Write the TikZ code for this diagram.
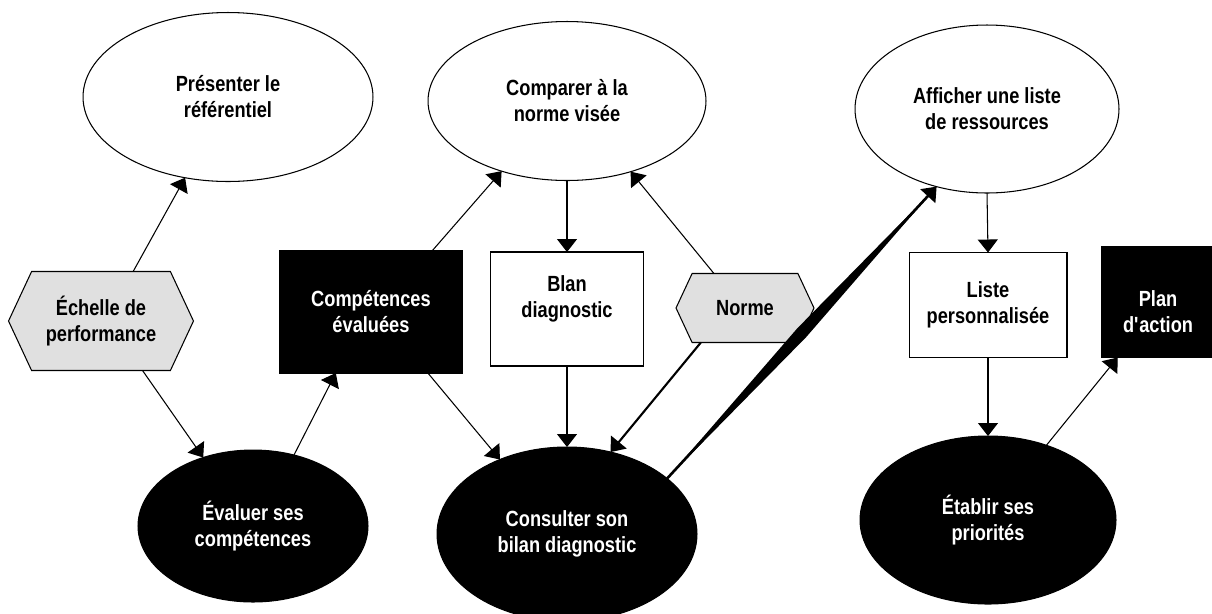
\documentclass[tikz,border=0pt]{standalone}
\usepackage{fontspec}
\setmainfont{Liberation Sans}[FakeStretch=0.83]
\usetikzlibrary{shapes.geometric,shapes.symbols,arrows.meta,calc}
\definecolor{hexgray}{RGB}{224,224,224}

\tikzset{
  shapebase/.style = {draw, line width=0.6pt, align=center, inner sep=0pt, outer sep=0pt,
                      font=\bfseries\fontsize{12.5}{14.8}\selectfont},
  task/.style      = {shapebase, ellipse},
  doc/.style       = {shapebase, rectangle},
  dark/.style      = {fill=black, text=white},
  gauge/.style     = {shapebase, signal, signal to=west and east,
                      signal pointer angle=130, fill=hexgray},
  link/.style      = {draw, line width=0.6pt, -{Triangle[length=0.26cm, width=0.4cm]}}
}

\begin{document}
\begin{tikzpicture}[x=0.02cm, y=-0.02cm]
\useasboundingbox (0,0) rectangle (1212,613);

% top row: ellipses
\node [task, minimum width=5.8cm, minimum height=3.38cm] (pres) at (228,97) {Présenter le\\référentiel};
\node [task, minimum width=5.56cm, minimum height=3.18cm] (cmp) at (567,101) {Comparer à la\\norme visée};
\node [task, minimum width=5.28cm, minimum height=3.36cm] (aff) at (987,109) {Afficher une liste\\de ressources};

% middle row
\node [gauge, minimum width=3.7cm, minimum height=1.98cm] (ech) at (101,321) {Échelle de\\performance};
\node [doc, dark, minimum width=3.66cm, minimum height=2.44cm] (comp) at (371,312) {Compétences\\évaluées};
\node [doc, minimum width=3.06cm, minimum height=2.28cm] (blan) at (567,309) {Blan\\diagnostic\rule[-0.5cm]{0pt}{0pt}};
\node [gauge, minimum width=2.76cm, minimum height=1.38cm] (norme) at (745,308) {Norme};
\node [doc, minimum width=3.16cm, minimum height=2.1cm] (liste) at (988,305) {Liste\\personnalisée};
\node [doc, dark, minimum width=2.28cm, minimum height=2.22cm] (plan) at (1158,302) {\rule{0pt}{0.7cm}Plan\\d\textquotesingle action};

% bottom row: black ellipses
\node [task, dark, minimum width=4.6cm, minimum height=3.04cm] (eval) at (253,526) {Évaluer ses\\compétences};
\node [task, dark, minimum width=5.2cm, minimum height=3.48cm] (cons) at (567,534) {Consulter son\\bilan diagnostic};
\node [task, dark, minimum width=5.12cm, minimum height=3.36cm] (etab) at (988,520) {Établir ses\\priorités};

% connectors
\draw [link] (ech.57) -- (pres.242);
\draw [link] (ech.-50) -- (eval.126);
\draw [link] (eval.60) -- (comp.240);
\draw [link] (comp.45) -- (cmp.227);
\draw [link] (comp.-47) -- (cons.132);
\draw [link] (cmp.south) -- (blan.north);
\draw [link] (blan.south) -- (cons.north);
\draw [link] (norme.132) -- (cmp.-48);
\draw [link, line width=1.2pt] (norme.218) -- (cons.62);
\fill (cons.29) -- ($(cons.29)!0.5!1.8:(aff.237)$) -- (aff.237) -- ($(cons.29)!0.5!-1.8:(aff.237)$) -- cycle;
\draw [link, line width=1.5pt] (cons.29) -- (aff.237);
\draw [link] (aff.south) -- (liste.north);
\draw [link] (liste.south) -- (etab.north);
\draw [link] (etab.52) -- (plan.234);
\end{tikzpicture}
\end{document}
